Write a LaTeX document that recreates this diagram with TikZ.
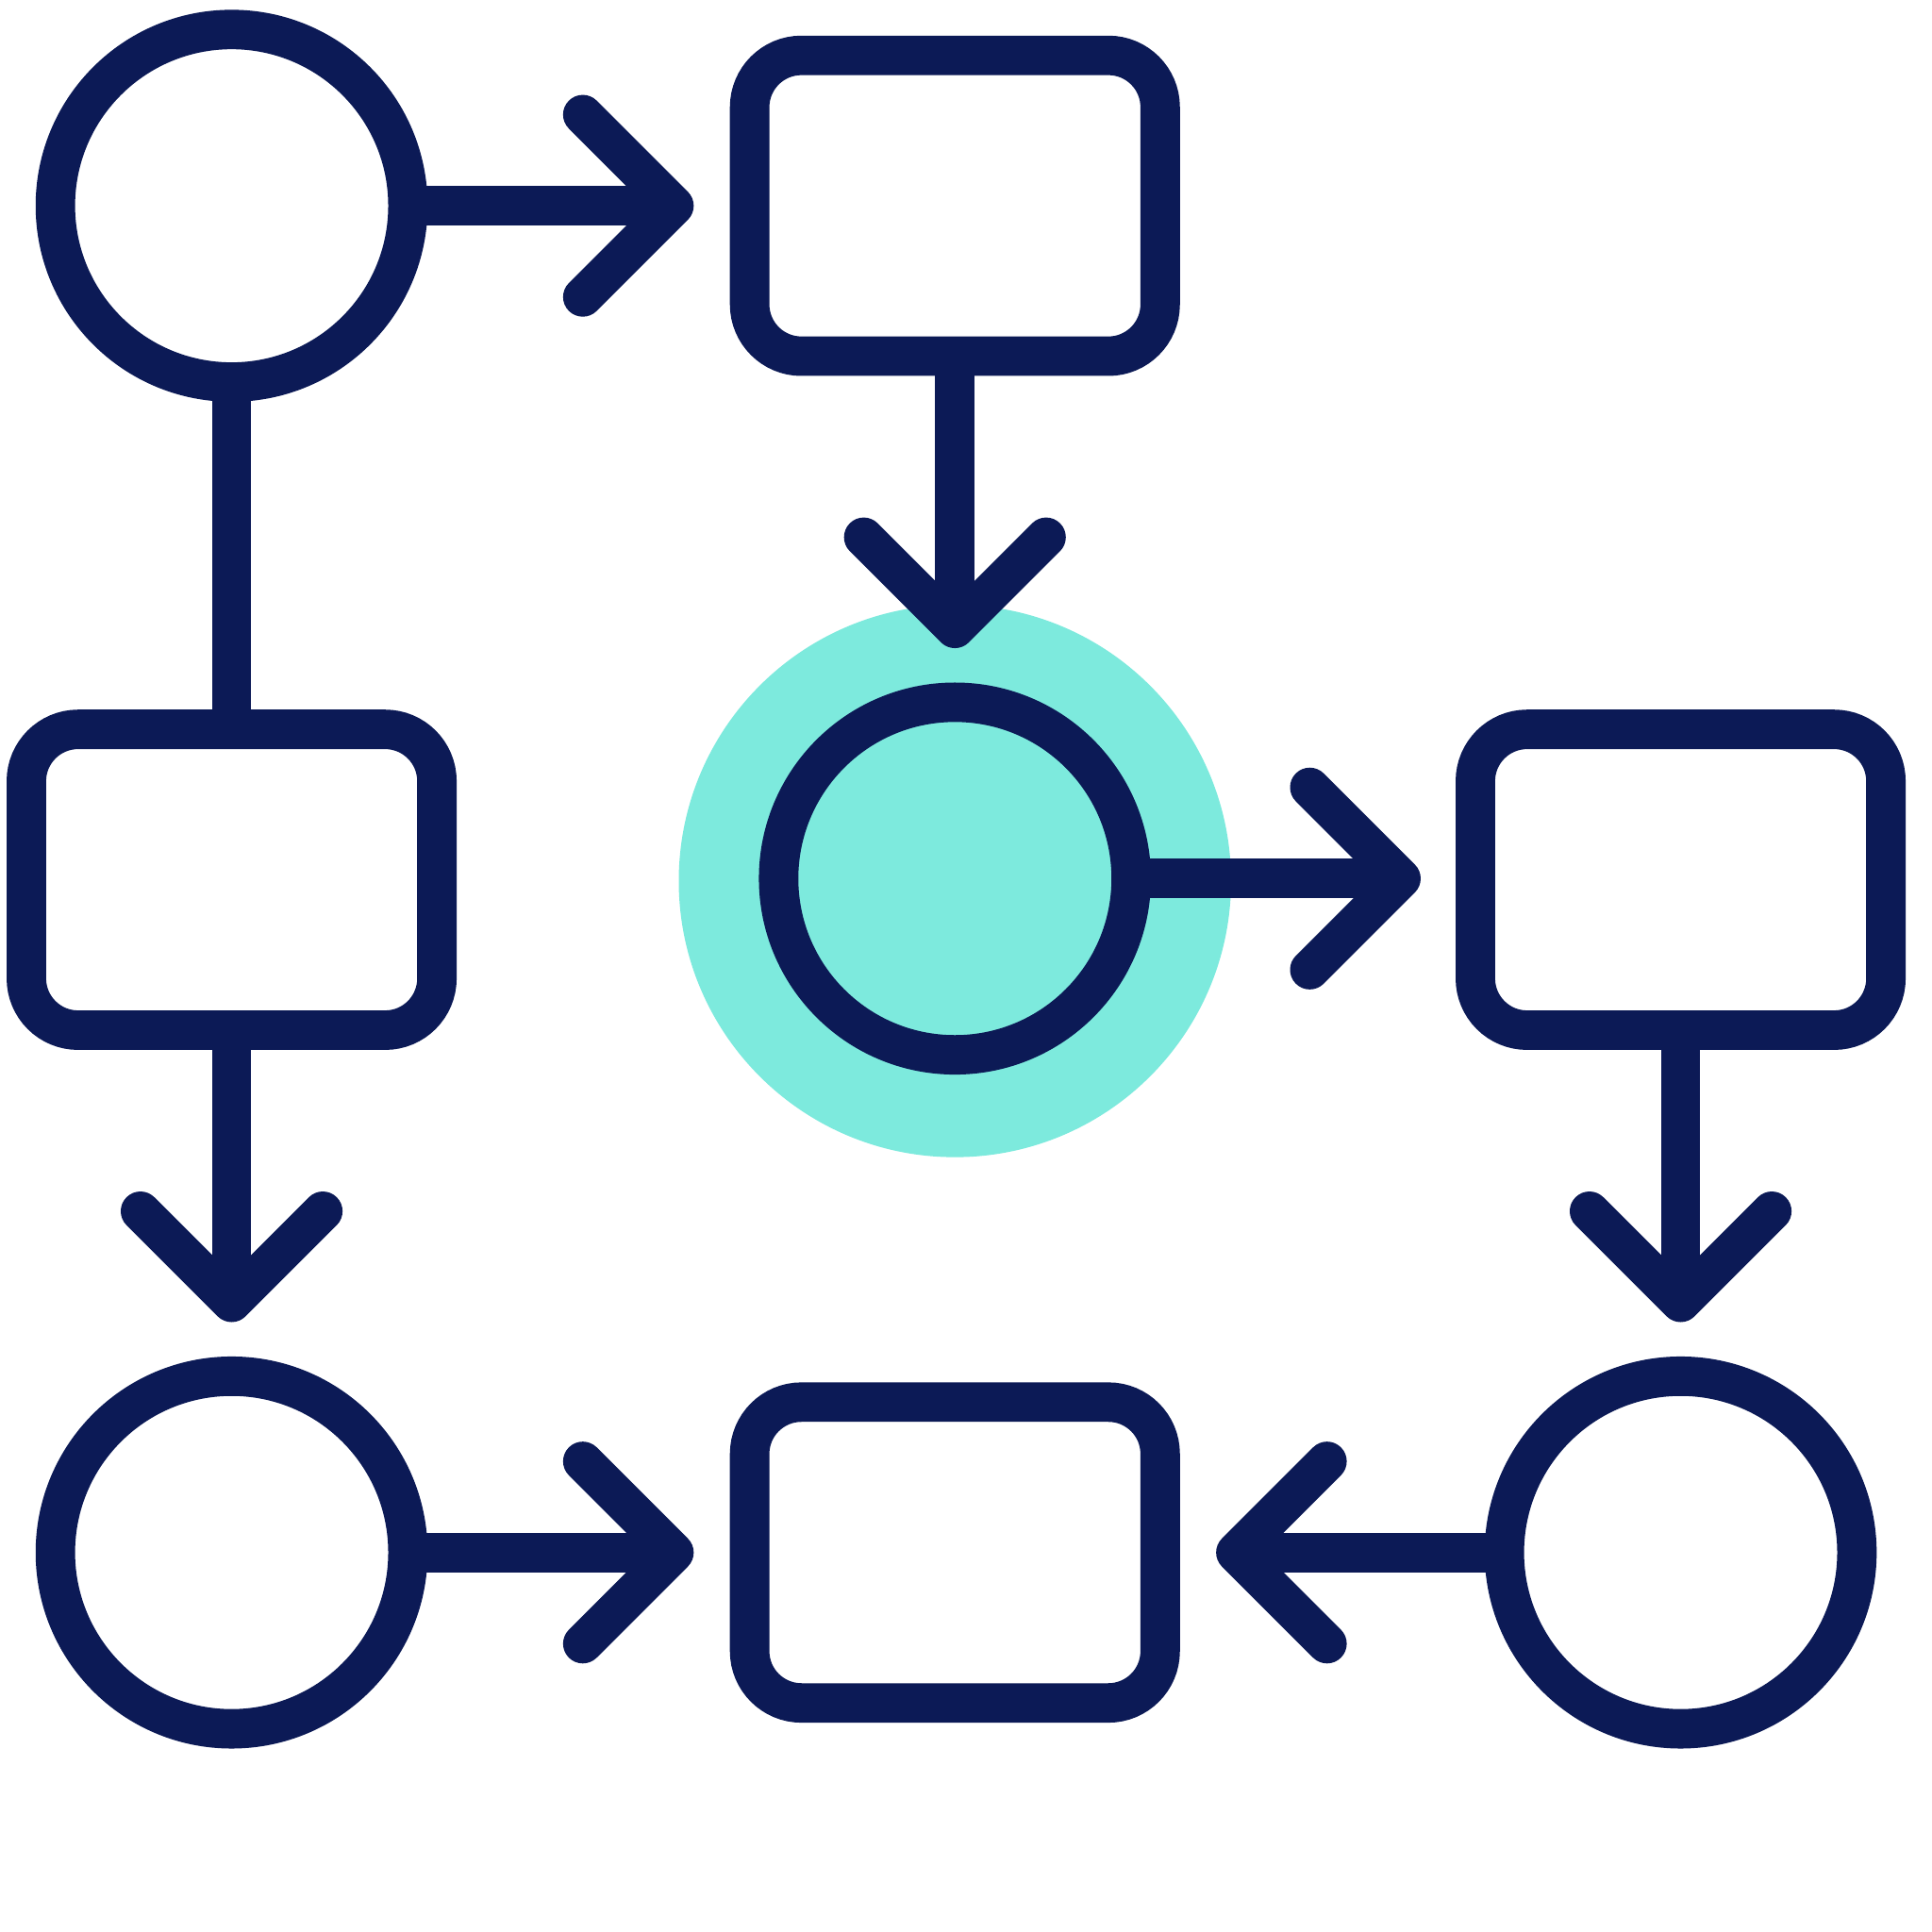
\documentclass[tikz,border=0pt]{standalone}
\usetikzlibrary{calc}
\definecolor{navy}{RGB}{12,26,86}
\definecolor{tealfill}{RGB}{125,234,221}
\begin{document}
\begin{tikzpicture}[x=0.01cm,y=-0.01cm,
  shp/.style={draw=navy,line width=0.32cm,inner sep=0pt,outer sep=0pt},
  circ/.style={shp,circle,minimum size=2.86cm},
  box/.style={shp,rectangle,rounded corners=0.42cm,minimum width=3.33cm,minimum height=2.44cm},
  conn/.style={draw=navy,line width=0.32cm},
  chev/.pic={\draw[navy,line width=0.32cm,line cap=round,line join=round] (-74,-74) -- (0,0) -- (-74,74);}]
\fill[white] (0,0) rectangle (1568,1568);
\useasboundingbox (0,0) rectangle (1568,1568);
\fill[tealfill] (775,715) circle (2.24cm);
% connectors
\coordinate (t1) at (547,167);
\coordinate (t2) at (775,510);
\coordinate (t3) at (1137,713);
\coordinate (t4) at (188,1057);
\coordinate (t5) at (1364,1057);
\coordinate (t6) at (547,1260);
\coordinate (t7) at (1003,1260);
\node[circ] (C1) at (188,167) {};
\node[box]  (R1) at (775,167) {};
\node[box]  (R2) at (188,714) {};
\node[circ] (C2) at (775,713) {};
\node[box]  (R3) at (1364,714) {};
\node[circ] (C3) at (188,1260) {};
\node[box]  (R4) at (775,1260) {};
\node[circ] (C4) at (1364,1260) {};
\draw[conn] (C1.east) -- (t1); \pic at (t1) {chev};
\draw[conn] (C1.south) -- (R2.north);
\draw[conn] (R1.south) -- (t2); \pic[rotate=-90] at (t2) {chev};
\draw[conn] (C2.east) -- (t3); \pic at (t3) {chev};
\draw[conn] (R2.south) -- (t4); \pic[rotate=-90] at (t4) {chev};
\draw[conn] (R3.south) -- (t5); \pic[rotate=-90] at (t5) {chev};
\draw[conn] (C3.east) -- (t6); \pic at (t6) {chev};
\draw[conn] (C4.west) -- (t7); \pic[rotate=180] at (t7) {chev};
\end{tikzpicture}
\end{document}
